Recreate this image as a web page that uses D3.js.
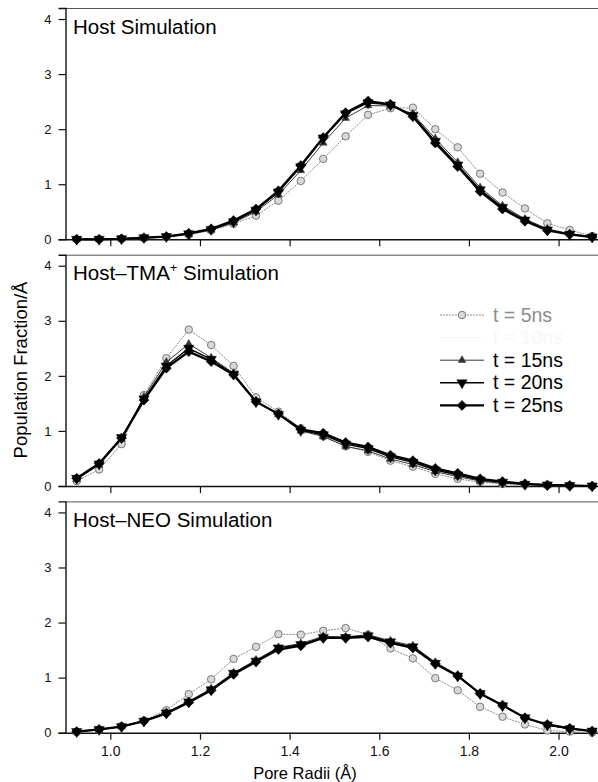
<!DOCTYPE html>
<html>
<head>
<meta charset="utf-8">
<script src="https://cdn.jsdelivr.net/npm/d3@7"></script>
<style>
  html, body { margin: 0; padding: 0; background: #fff; }
  svg { display: block; font-family: "Liberation Sans", Arial, Helvetica, sans-serif; }
</style>
</head>
<body>
<svg id="chart" width="598" height="782"></svg>
<script>
// Pore radius bins (Å)
const radii = [0.925, 0.975, 1.025, 1.075, 1.125, 1.175, 1.225, 1.275, 1.325, 1.375, 1.425, 1.475,
               1.525, 1.575, 1.625, 1.675, 1.725, 1.775, 1.825, 1.875, 1.925, 1.975, 2.025, 2.075];

const panelTitles = ["Host Simulation", "Host\u2013TMA", "Host\u2013NEO Simulation"];
const seriesNames = ["t = 5ns", "t = 10ns", "t = 15ns", "t = 20ns", "t = 25ns"];
const yTicks = [0, 1, 2, 3, 4];
const xTicks = [1.0, 1.2, 1.4, 1.6, 1.8, 2.0];

// Host simulation
const host5  = [0.00, 0.00, 0.01, 0.02, 0.04, 0.08, 0.16, 0.28, 0.43, 0.70, 1.06, 1.46, 1.87, 2.26, 2.38, 2.39, 2.00, 1.67, 1.19, 0.85, 0.56, 0.29, 0.17, 0.06];
const host15 = [0.00, 0.00, 0.01, 0.02, 0.04, 0.09, 0.17, 0.30, 0.50, 0.81, 1.25, 1.75, 2.20, 2.43, 2.42, 2.28, 1.83, 1.40, 0.94, 0.61, 0.37, 0.19, 0.10, 0.05];
const host20 = [0.00, 0.00, 0.01, 0.03, 0.05, 0.10, 0.18, 0.32, 0.53, 0.86, 1.32, 1.84, 2.28, 2.48, 2.44, 2.25, 1.78, 1.35, 0.90, 0.58, 0.35, 0.17, 0.09, 0.04];
const host25 = [0.00, 0.00, 0.01, 0.03, 0.05, 0.11, 0.19, 0.34, 0.55, 0.88, 1.34, 1.85, 2.30, 2.51, 2.45, 2.23, 1.75, 1.32, 0.87, 0.55, 0.33, 0.16, 0.09, 0.04];

// Host–TMA+ simulation
const tma5  = [0.09, 0.30, 0.76, 1.65, 2.32, 2.84, 2.56, 2.18, 1.61, 1.35, 1.05, 0.90, 0.72, 0.62, 0.46, 0.35, 0.22, 0.13, 0.07, 0.04, 0.02, 0.01, 0.00, 0.00];
const tma15 = [0.12, 0.38, 0.85, 1.62, 2.25, 2.58, 2.33, 2.05, 1.55, 1.30, 1.00, 0.90, 0.72, 0.64, 0.49, 0.39, 0.26, 0.17, 0.09, 0.05, 0.03, 0.01, 0.01, 0.00];
const tma20 = [0.14, 0.40, 0.88, 1.58, 2.18, 2.50, 2.30, 2.03, 1.53, 1.30, 1.01, 0.93, 0.76, 0.68, 0.53, 0.43, 0.29, 0.20, 0.11, 0.07, 0.03, 0.02, 0.01, 0.00];
const tma25 = [0.14, 0.41, 0.87, 1.56, 2.14, 2.44, 2.26, 2.02, 1.53, 1.31, 1.03, 0.96, 0.79, 0.71, 0.56, 0.46, 0.32, 0.23, 0.13, 0.08, 0.04, 0.02, 0.01, 0.00];

// Host–NEO simulation
const neo5  = [0.01, 0.05, 0.12, 0.22, 0.41, 0.70, 0.97, 1.34, 1.56, 1.79, 1.78, 1.85, 1.90, 1.78, 1.53, 1.35, 0.99, 0.77, 0.47, 0.29, 0.15, 0.04, 0.02, 0.00];
const neo15 = [0.02, 0.05, 0.11, 0.22, 0.37, 0.57, 0.80, 1.09, 1.32, 1.55, 1.62, 1.75, 1.74, 1.78, 1.67, 1.58, 1.28, 1.05, 0.72, 0.50, 0.27, 0.14, 0.07, 0.03];
const neo20 = [0.02, 0.06, 0.11, 0.21, 0.36, 0.56, 0.78, 1.08, 1.30, 1.54, 1.60, 1.73, 1.73, 1.76, 1.65, 1.56, 1.26, 1.03, 0.71, 0.49, 0.27, 0.14, 0.07, 0.03];
const neo25 = [0.02, 0.06, 0.11, 0.21, 0.35, 0.55, 0.77, 1.06, 1.29, 1.51, 1.58, 1.72, 1.72, 1.74, 1.63, 1.54, 1.25, 1.03, 0.71, 0.50, 0.27, 0.15, 0.08, 0.03];

const panels = [
  { title: panelTitles[0], sup: null, series: [host5, host15, host20, host25] },
  { title: panelTitles[1], sup: "+", series: [tma5, tma15, tma20, tma25] },
  { title: panelTitles[2], sup: null, series: [neo5, neo15, neo20, neo25] }
];

// Drawing styles per time step (5, 15, 20, 25 ns)
const styles = [
  { line: "#8c8c8c", width: 1.0, dash: "2,1", symbol: d3.symbolCircle,   size: 44, rot: 0,   fill: "#d8d8d8", stroke: "#7a7a7a" },
  { line: "#222",    width: 0.9, dash: null,  symbol: d3.symbolTriangle, size: 26, rot: 0,   fill: "#333",    stroke: "#333" },
  { line: "#000",    width: 1.4, dash: null,  symbol: d3.symbolTriangle, size: 46, rot: 180, fill: "#000",    stroke: "#000" },
  { line: "#000",    width: 2.2, dash: null,  symbol: d3.symbolSquare,   size: 50, rot: 45,  fill: "#000",    stroke: "#000" }
];

const svg = d3.select("#chart");
const left = 65.5, right = 598;
const panelTop0 = 8, panelH = 231.3, panelStep = 246.7;

const x = d3.scaleLinear().domain([0.9, 2.088]).range([left, right]);

panels.forEach((p, i) => {
  const top = panelTop0 + i * panelStep;
  const y = d3.scaleLinear().domain([0, 4.2]).range([top + panelH, top]);
  const g = svg.append("g");

  // frame: top border
  g.append("line").attr("x1", left).attr("x2", right).attr("y1", top + 0.5).attr("y2", top + 0.5)
    .attr("stroke", "#555").attr("stroke-width", 1);

  // y axis
  const ya = g.append("g").attr("transform", `translate(${left},0)`)
    .call(d3.axisLeft(y).tickValues(yTicks).tickFormat(d3.format("d")).tickSize(7).tickPadding(7));
  ya.select(".domain").attr("stroke", "#111").attr("stroke-width", 1.4);
  ya.selectAll(".tick line").attr("stroke", "#111").attr("stroke-width", 1.2);
  ya.selectAll(".tick text").attr("font-size", 13).attr("fill", "#111")
    .attr("font-family", "Liberation Sans, Arial, sans-serif");

  // x axis
  const xa = g.append("g").attr("transform", `translate(0,${y(0)})`)
    .call(d3.axisBottom(x).tickValues(xTicks).tickFormat(i === 2 ? d3.format(".1f") : () => "")
      .tickSizeInner(7).tickSizeOuter(0).tickPadding(6));
  xa.select(".domain").attr("stroke", "#111").attr("stroke-width", 1.4);
  xa.selectAll(".tick line").attr("stroke", "#111").attr("stroke-width", 1.2);
  xa.selectAll(".tick text").attr("font-size", 14).attr("fill", "#111")
    .attr("font-family", "Liberation Sans, Arial, sans-serif");

  // series
  p.series.forEach((vals, s) => {
    const st = styles[s];
    const pts = radii.map((r, k) => [r, vals[k]]);
    g.append("path").datum(pts)
      .attr("fill", "none").attr("stroke", st.line).attr("stroke-width", st.width)
      .attr("stroke-dasharray", st.dash)
      .attr("d", d3.line().x(d => x(d[0])).y(d => y(d[1])));
    g.selectAll(null).data(pts).enter().append("path")
      .attr("d", d3.symbol().type(st.symbol).size(st.size))
      .attr("transform", d => `translate(${x(d[0])},${y(d[1])}) rotate(${st.rot})`)
      .attr("fill", st.fill).attr("stroke", st.stroke).attr("stroke-width", s === 0 ? 1 : 0.5);
  });

  // panel title
  const t = g.append("text").attr("x", 73).attr("y", top + 25.5)
    .attr("font-size", 20.5).attr("fill", "#000").text(p.title);
  if (p.sup) {
    t.append("tspan").attr("font-size", 13).attr("dy", -8).text(p.sup);
    t.append("tspan").attr("dy", 8).text(" Simulation");
  }
});

// legend in the middle panel; the 10 ns entry is printed very faintly
const legRows = [
  { name: seriesNames[0], style: styles[0], color: "#8c8c8c" },
  { name: seriesNames[1], style: null,      color: "#f7f7f7" },
  { name: seriesNames[2], style: styles[1], color: "#000" },
  { name: seriesNames[3], style: styles[2], color: "#000" },
  { name: seriesNames[4], style: styles[3], color: "#000" }
];
const leg = svg.append("g");
legRows.forEach((r, k) => {
  const cy = 315 + k * 22.6;
  leg.append("line").attr("x1", 440).attr("x2", 484).attr("y1", cy).attr("y2", cy)
    .attr("stroke", r.style ? r.style.line : r.color)
    .attr("stroke-width", r.style ? r.style.width : 1)
    .attr("stroke-dasharray", r.style ? r.style.dash : null);
  if (r.style) {
    leg.append("path").attr("d", d3.symbol().type(r.style.symbol).size(r.style.size))
      .attr("transform", `translate(462,${cy}) rotate(${r.style.rot})`)
      .attr("fill", r.style.fill).attr("stroke", r.style.stroke).attr("stroke-width", k === 0 ? 1 : 0.5);
  }
  leg.append("text").attr("x", 493).attr("y", cy + 6.5).attr("font-size", 19.5)
    .attr("fill", r.color).text(r.name);
});

// axis titles
svg.append("text").attr("x", 305).attr("y", 779).attr("text-anchor", "middle")
  .attr("font-size", 16.5).attr("fill", "#000").text("Pore Radii (\u00c5)");
svg.append("text").attr("transform", "translate(27,370) rotate(-90)").attr("text-anchor", "middle")
  .attr("font-size", 18.5).attr("fill", "#000").text("Population Fraction/\u00c5");
</script>
</body>
</html>
